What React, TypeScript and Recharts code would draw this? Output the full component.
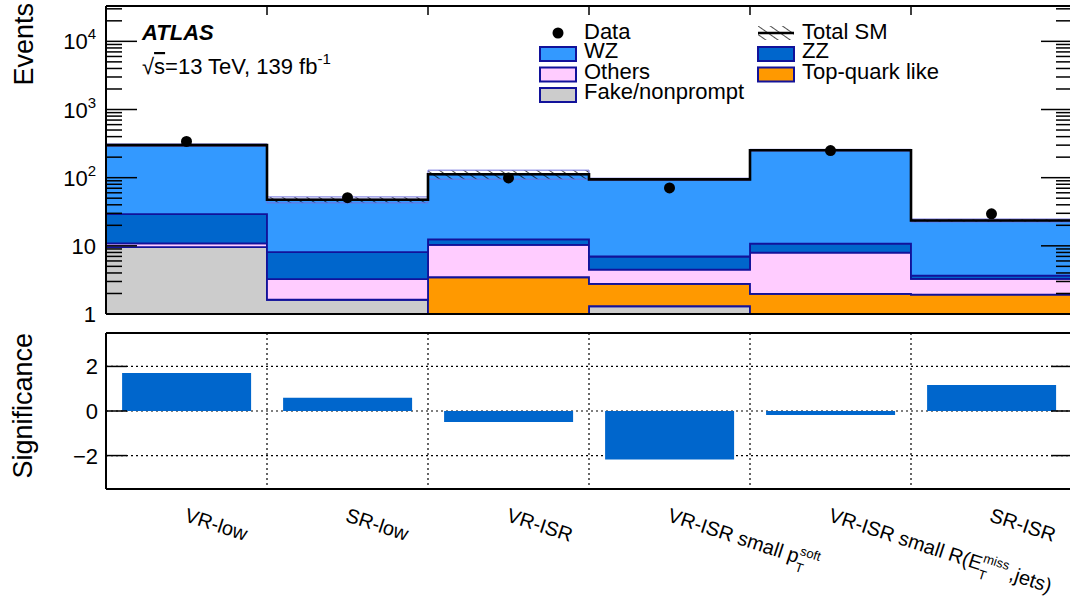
import React from "react";
import {
  ComposedChart,
  Area,
  Line,
  Bar,
  XAxis,
  YAxis,
  CartesianGrid,
} from "recharts";

const FONT = "'Liberation Sans', Arial, Helvetica, sans-serif";
const NAVY = "#12129a";

// regions (bins)
const regions = [
  "VR-low",
  "SR-low",
  "VR-ISR",
  "VR-ISR small pT soft",
  "VR-ISR small R(ET miss,jets)",
  "SR-ISR",
];

// stacked backgrounds, bottom to top
const fakeNonprompt = [9.6, 1.62, 0, 1.3, 0, 0];
const topQuarkLike = [0, 0, 3.46, 1.46, 1.97, 1.92];
const others = [1.3, 1.62, 6.89, 1.73, 6.0, 1.35];
const zz = [18.3, 4.83, 2.05, 2.48, 2.83, 0.39];
const wz = [270.8, 39.4, 99.6, 87.5, 242, 19.9];
const relUncertainty = [0.04, 0.1, 0.15, 0.04, 0.03, 0.05];
const observed = [340, 50.8, 99, 70.6, 250, 29.5];
const significance = [1.7, 0.59, -0.49, -2.18, -0.18, 1.17];

const logTicks = [1, 10, 100, 1000, 10000];
const sigTicks = [-2, 0, 2];
const Y_MIN = 1;
const Y_MAX = 33000;

const layers = [
  { key: "fake", values: fakeNonprompt, fill: "#cccccc" },
  { key: "top", values: topQuarkLike, fill: "#ff9900" },
  { key: "others", values: others, fill: "#ffccff" },
  { key: "zz", values: zz, fill: "#0066cc" },
  { key: "wz", values: wz, fill: "#3399ff" },
];

// label pieces for the rotated region names
const labelParts = [
  { base: "VR-low" },
  { base: "SR-low" },
  { base: "VR-ISR" },
  { base: "VR-ISR small p", sup: "soft", sub: "T", supW: 21, subW: 8 },
  { base: "VR-ISR small R(E", sup: "miss", sub: "T", supW: 27, subW: 8, tail: ",jets)" },
  { base: "SR-ISR" },
];

const minorTicks: number[] = [];
logTicks.forEach((d) => {
  for (let m = 2; m <= 9; m++) if (m * d < Y_MAX) minorTicks.push(m * d);
});

const binEdges = [...regions.map((_, i) => i), regions.length];
const innerEdges = binEdges.slice(1, -1);
const binCenters = regions.map((_, i) => i + 0.5);

const histRows = binEdges.map((edge) => {
  const b = Math.min(edge, regions.length - 1);
  const row: Record<string, any> = { x: edge };
  let cum = 0;
  layers.forEach((l) => {
    const lo = cum;
    cum += l.values[b];
    row[l.key] = [Math.max(lo, Y_MIN), Math.max(cum, Y_MIN)];
  });
  row.total = cum;
  row.band = [cum * (1 - relUncertainty[b]), cum * (1 + relUncertainty[b])];
  return row;
});

const dataPoints = observed.map((v, i) => ({ x: binCenters[i], data: v }));
const sigRows = regions.map((name, i) => ({ x: binCenters[i], name, sig: significance[i] }));

const Empty = () => <g />;

function LogTick(props: any) {
  const { x, y, payload } = props;
  const v = payload.value;
  const exp = Math.round(Math.log10(v));
  return (
    <text x={x} y={y + 8} textAnchor="end" fontSize={22} fontFamily={FONT} fill="#000">
      {exp < 2 ? (
        String(v)
      ) : (
        <>
          <tspan>10</tspan>
          <tspan dy={-10} fontSize={15}>
            {exp}
          </tspan>
        </>
      )}
    </text>
  );
}

function SigTick(props: any) {
  const { x, y, payload } = props;
  const v = payload.value;
  return (
    <text x={x} y={y + 8} textAnchor="end" fontSize={22} fontFamily={FONT} fill="#000">
      {v < 0 ? `\u2212${Math.abs(v)}` : String(v)}
    </text>
  );
}

function RegionTick(props: any) {
  const { x, y, index } = props;
  const p: any = labelParts[index];
  if (!p) return <g />;
  return (
    <text
      transform={`translate(${x - 3},${y + 32}) rotate(18)`}
      fontSize={20}
      fontFamily={FONT}
      fill="#000"
    >
      <tspan>{p.base}</tspan>
      {p.sup && (
        <>
          <tspan dy={-9} fontSize={13}>
            {p.sup}
          </tspan>
          <tspan dx={-p.supW} dy={17} fontSize={13}>
            {p.sub}
          </tspan>
        </>
      )}
      {p.tail && (
        <tspan dx={p.supW - p.subW + 3} dy={-8}>
          {p.tail}
        </tspan>
      )}
    </text>
  );
}

const axisStroke = { stroke: "#000", strokeWidth: 2 };
const tickStroke = { stroke: "#000", strokeWidth: 1.5 };

function TopPanel() {
  const logAxis = {
    scale: "log" as const,
    domain: [Y_MIN, Y_MAX],
    allowDataOverflow: true,
    type: "number" as const,
    interval: 0 as const,
  };
  return (
    <ComposedChart
      width={1080}
      height={332}
      data={histRows}
      margin={{ top: 5, right: 8, bottom: 17, left: 0 }}
    >
      <defs>
        <pattern
          id="hatch"
          width="7"
          height="7"
          patternUnits="userSpaceOnUse"
          patternTransform="rotate(-55)"
        >
          <line x1="0" y1="0" x2="0" y2="7" stroke="#000" strokeWidth="1.4" />
        </pattern>
      </defs>
      <XAxis
        dataKey="x"
        type="number"
        domain={[0, regions.length]}
        allowDataOverflow
        height={1}
        ticks={innerEdges}
        interval={0}
        tick={Empty}
        tickLine={false}
        axisLine={axisStroke}
      />
      {/* top frame with inward ticks at the bin edges */}
      <XAxis
        xAxisId="top"
        dataKey="x"
        orientation="top"
        type="number"
        domain={[0, regions.length]}
        allowDataOverflow
        ticks={innerEdges}
        interval={0}
        height={1}
        tickSize={-9}
        tick={Empty}
        tickLine={tickStroke}
        axisLine={axisStroke}
      />
      <YAxis
        yAxisId="l"
        {...logAxis}
        width={106}
        ticks={logTicks}
        tickSize={0}
        tickMargin={10}
        tickLine={false}
        axisLine={axisStroke}
        tick={<LogTick />}
      />
      <YAxis yAxisId="lmaj" {...logAxis} mirror width={1} ticks={logTicks} tickSize={31} tick={Empty} tickLine={tickStroke} axisLine={false} />
      <YAxis yAxisId="lmin" {...logAxis} mirror width={1} ticks={minorTicks} tickSize={15} tick={Empty} tickLine={tickStroke} axisLine={false} />
      <YAxis yAxisId="rmaj" orientation="right" {...logAxis} mirror width={1} ticks={logTicks} tickSize={31} tick={Empty} tickLine={tickStroke} axisLine={axisStroke} />
      <YAxis yAxisId="rmin" orientation="right" {...logAxis} mirror width={1} ticks={minorTicks} tickSize={15} tick={Empty} tickLine={tickStroke} axisLine={false} />

      {layers.map((l) => (
        <Area
          key={l.key}
          yAxisId="l"
          dataKey={l.key}
          type="stepAfter"
          fill={l.fill}
          fillOpacity={1}
          stroke={NAVY}
          strokeWidth={1.8}
          dot={false}
          activeDot={false}
          isAnimationActive={false}
        />
      ))}
      <Area
        yAxisId="l"
        dataKey="band"
        type="stepAfter"
        fill="url(#hatch)"
        fillOpacity={1}
        stroke="#7070dd"
        strokeWidth={1}
        dot={false}
        activeDot={false}
        isAnimationActive={false}
      />
      <Line
        yAxisId="l"
        dataKey="total"
        type="stepAfter"
        stroke="#000"
        strokeWidth={2.6}
        dot={false}
        activeDot={false}
        isAnimationActive={false}
      />
      <Line
        yAxisId="l"
        data={dataPoints}
        dataKey="data"
        stroke="none"
        dot={{ r: 5.5, fill: "#000", stroke: "#000", strokeWidth: 0 }}
        activeDot={false}
        isAnimationActive={false}
      />
    </ComposedChart>
  );
}

function BottomPanel() {
  const sigAxis = {
    type: "number" as const,
    domain: [-3.5, 3.5],
    allowDataOverflow: true,
    interval: 0 as const,
  };
  return (
    <ComposedChart
      width={1080}
      height={281}
      data={sigRows}
      margin={{ top: 13, right: 8, bottom: 0, left: 0 }}
      barCategoryGap="10%"
    >
      <XAxis
        dataKey="x"
        type="number"
        domain={[0, regions.length]}
        allowDataOverflow
        height={112}
        ticks={binCenters}
        interval={0}
        tickSize={0}
        tickMargin={0}
        tickLine={false}
        axisLine={axisStroke}
        tick={<RegionTick />}
      />
      <XAxis
        xAxisId="top"
        dataKey="x"
        orientation="top"
        type="number"
        domain={[0, regions.length]}
        allowDataOverflow
        mirror
        height={1}
        ticks={innerEdges}
        interval={0}
        tick={Empty}
        tickLine={false}
        axisLine={axisStroke}
      />
      <YAxis
        {...sigAxis}
        width={106}
        ticks={sigTicks}
        tickSize={0}
        tickMargin={8}
        tickLine={false}
        axisLine={axisStroke}
        tick={<SigTick />}
      />
      <YAxis yAxisId="lt" {...sigAxis} mirror width={1} ticks={sigTicks} tickSize={21} tick={Empty} tickLine={tickStroke} axisLine={false} />
      <YAxis yAxisId="rt" orientation="right" {...sigAxis} mirror width={1} ticks={sigTicks} tickSize={21} tick={Empty} tickLine={tickStroke} axisLine={axisStroke} />
      <CartesianGrid
        horizontalValues={sigTicks}
        verticalValues={innerEdges}
        stroke="#000"
        strokeWidth={1.2}
        strokeDasharray="2 3"
      />
      <Bar dataKey="sig" fill="#0066cc" isAnimationActive={false} />
    </ComposedChart>
  );
}

function LegendBox({ x, y, fill }: { x: number; y: number; fill: string }) {
  return <rect x={x} y={y} width={36} height={14} fill={fill} stroke={NAVY} strokeWidth={2} />;
}

function Overlay() {
  const t = { fontFamily: FONT, fontSize: 22, fill: "#000" };
  return (
    <svg
      width={1070}
      height={601}
      style={{ position: "absolute", left: 0, top: 0, pointerEvents: "none" }}
    >
      <defs>
        <pattern
          id="hatchLegend"
          width="7"
          height="7"
          patternUnits="userSpaceOnUse"
          patternTransform="rotate(-55)"
        >
          <line x1="0" y1="0" x2="0" y2="7" stroke="#000" strokeWidth="1.4" />
        </pattern>
      </defs>
      <text
        transform="translate(33,3) rotate(-90)"
        textAnchor="end"
        fontFamily={FONT}
        fontSize={27}
        fill="#000"
      >
        Events
      </text>
      <text
        transform="translate(32,333) rotate(-90)"
        textAnchor="end"
        fontFamily={FONT}
        fontSize={27}
        fill="#000"
      >
        Significance
      </text>

      <text x={142} y={40} {...t} fontWeight="bold" fontStyle="italic">
        ATLAS
      </text>
      <text x={142} y={74} {...t}>
        <tspan>√</tspan>
        <tspan style={{ textDecoration: "overline" }}>s</tspan>
        <tspan>=13 TeV, 139 fb</tspan>
        <tspan dy={-10} fontSize={15}>
          -1
        </tspan>
      </text>

      {/* legend column 1 */}
      <circle cx={558} cy={33} r={5.5} fill="#000" />
      <text x={584} y={38.5} {...t}>Data</text>
      <LegendBox x={540} y={47} fill="#3399ff" />
      <text x={584} y={58} {...t}>WZ</text>
      <LegendBox x={540} y={67.5} fill="#ffccff" />
      <text x={584} y={78.5} {...t}>Others</text>
      <LegendBox x={540} y={88} fill="#cccccc" />
      <text x={584} y={99} {...t}>Fake/nonprompt</text>

      {/* legend column 2 */}
      <rect x={758} y={26} width={36} height={14} fill="url(#hatchLegend)" />
      <line x1={758} x2={794} y1={33} y2={33} stroke="#000" strokeWidth={2.6} />
      <text x={802} y={38.5} {...t}>Total SM</text>
      <LegendBox x={758} y={47} fill="#0066cc" />
      <text x={802} y={58} {...t}>ZZ</text>
      <LegendBox x={758} y={67.5} fill="#ff9900" />
      <text x={802} y={78.5} {...t}>Top-quark like</text>
    </svg>
  );
}

export default function App() {
  return (
    <div
      style={{
        position: "absolute",
        left: 0,
        top: 0,
        width: 1070,
        height: 601,
        overflow: "hidden",
        background: "#fff",
      }}
    >
      <div style={{ position: "absolute", left: 0, top: 320 }}>
        <BottomPanel />
      </div>
      <div style={{ position: "absolute", left: 0, top: 0 }}>
        <TopPanel />
      </div>
      <Overlay />
    </div>
  );
}
